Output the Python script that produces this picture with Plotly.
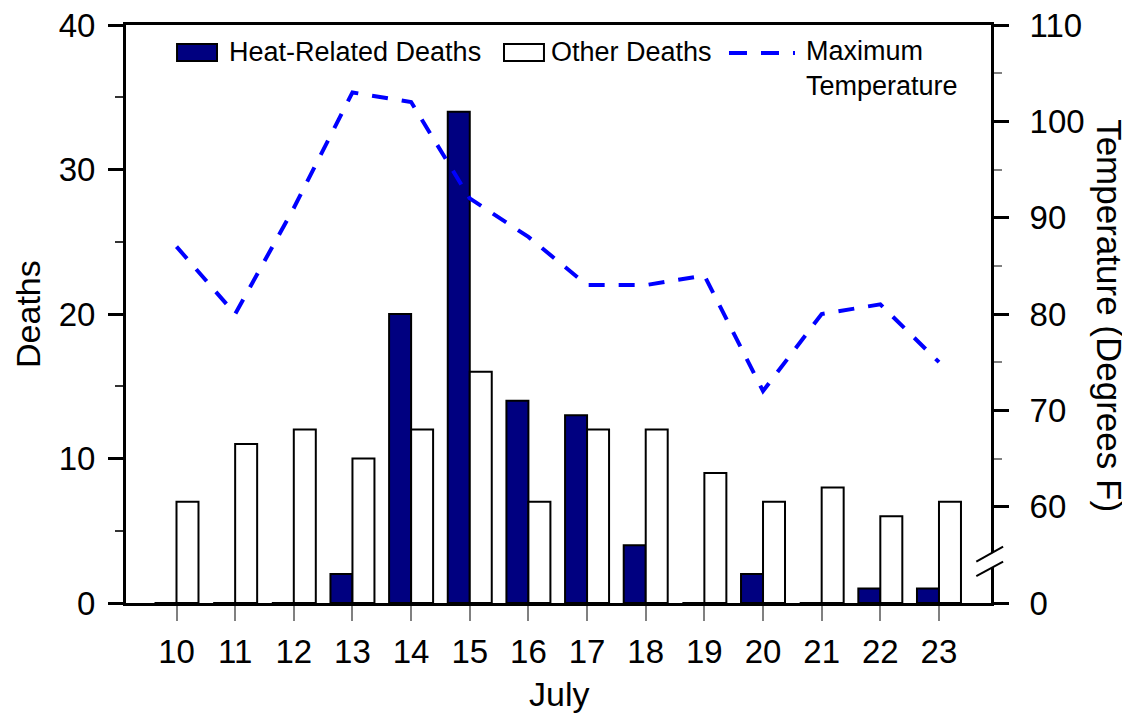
import plotly.graph_objects as go

days = ["10", "11", "12", "13", "14", "15", "16", "17", "18", "19", "20", "21", "22", "23"]
heat_deaths = [0, 0, 0, 2, 20, 34, 14, 13, 4, 0, 2, 0, 1, 1]
other_deaths = [7, 11, 12, 10, 12, 16, 7, 12, 12, 9, 7, 8, 6, 7]
max_temp = [87, 80, 91, 103, 102, 92, 88, 83, 83, 84, 72, 80, 81, 75]

deaths_ticks = [0, 10, 20, 30, 40]
deaths_minor = [5, 15, 25, 35]
temp_tickvals = [50, 60, 70, 80, 90, 100, 110]
temp_ticktext = ["0", "60", "70", "80", "90", "100", "110"]
temp_minor = [65, 75, 85, 95, 105]

FONT = "Liberation Sans, Arial, sans-serif"
NAVY = "#000080"
BLUE = "#0000FF"

fig = go.Figure()
fig.add_trace(go.Bar(
    x=days, y=heat_deaths, name="Heat-Related Deaths",
    marker=dict(color=NAVY, line=dict(color="black", width=2)),
))
fig.add_trace(go.Bar(
    x=days, y=other_deaths, name="Other Deaths",
    marker=dict(color="white", line=dict(color="black", width=2)),
))
fig.add_trace(go.Scatter(
    x=days, y=max_temp, name="Maximum Temperature", yaxis="y2",
    mode="lines", line=dict(color=BLUE, width=4, dash="16px,14px"),
))

# page body has an 8px margin, so the figure is sized 8px smaller each way
fig.update_layout(
    width=1122, height=705,
    margin=dict(l=118, r=139, t=17, b=110, autoexpand=False),
    paper_bgcolor="white", plot_bgcolor="white",
    font=dict(family=FONT, size=33, color="black"),
    barmode="group", bargap=0.25, bargroupgap=0,
    showlegend=False,
    xaxis=dict(
        type="category", range=[-0.861, 13.887], automargin=False,
        showline=True, linecolor="black", linewidth=3, mirror=True,
        ticks="outside", ticklen=15, tickwidth=1.5, tickcolor="#808080",
        showgrid=False, zeroline=False,
        tickfont=dict(size=33), ticklabelstandoff=2, ticklabeloverflow="allow",
    ),
    yaxis=dict(
        range=[0, 40], tickvals=deaths_ticks, automargin=False,
        showline=True, linecolor="black", linewidth=3,
        ticks="outside", ticklen=15, tickwidth=3, tickcolor="black",
        minor=dict(tickvals=deaths_minor, ticks="outside", ticklen=8, tickwidth=1.5, tickcolor="#333333"),
        showgrid=False, zeroline=False,
        tickfont=dict(size=33), ticklabelstandoff=6, ticklabeloverflow="allow",
    ),
    yaxis2=dict(
        range=[50, 110], tickvals=temp_tickvals, ticktext=temp_ticktext, automargin=False,
        overlaying="y", side="right",
        showline=True, linecolor="black", linewidth=3,
        ticks="outside", ticklen=15, tickwidth=3, tickcolor="black",
        minor=dict(tickvals=temp_minor, ticks="outside", ticklen=8, tickwidth=1.5, tickcolor="#808080"),
        showgrid=False, zeroline=False,
        tickfont=dict(size=33), ticklabelstandoff=14, ticklabeloverflow="allow",
    ),
)

# axis titles
fig.add_annotation(text="Deaths", xref="paper", yref="paper", x=-0.1133, y=0.5,
                   showarrow=False, textangle=-90, font=dict(size=34, family=FONT),
                   xanchor="center", yanchor="middle")
fig.add_annotation(text="Temperature (Degrees F)", xref="paper", yref="paper",
                   x=1.1376, y=0.498, showarrow=False, textangle=90,
                   font=dict(size=35, family=FONT), xanchor="center", yanchor="middle")
fig.add_annotation(text="July", xref="paper", yref="paper", x=0.5, y=-0.1574,
                   showarrow=False, font=dict(size=34, family=FONT),
                   xanchor="center", yanchor="middle")

# axis break marks on right axis
fig.add_shape(type="path", xref="paper", yref="y2",
              path="M 0.983 54.3 L 1.014 55.85 L 1.014 54.3 L 0.983 52.8 Z",
              fillcolor="white", line=dict(width=0), layer="above")
fig.add_shape(type="line", xref="paper", yref="y2", x0=0.983, y0=54.3, x1=1.014, y1=55.85,
              line=dict(color="black", width=2), layer="above")
fig.add_shape(type="line", xref="paper", yref="y2", x0=0.983, y0=52.8, x1=1.014, y1=54.3,
              line=dict(color="black", width=2), layer="above")

# legend (keys drawn to match the reference's large swatches)
LEG_FONT = dict(size=27, family=FONT, color="black")
fig.add_shape(type="rect", xref="paper", yref="paper", x0=0.059, x1=0.1052, y0=0.9377, y1=0.9671,
              fillcolor=NAVY, line=dict(color="black", width=2))
fig.add_annotation(text="Heat-Related Deaths", xref="paper", yref="paper", x=0.1165, y=0.9533,
                   showarrow=False, xanchor="left", yanchor="middle", font=LEG_FONT)
fig.add_shape(type="rect", xref="paper", yref="paper", x0=0.437, x1=0.4832, y0=0.9377, y1=0.9671,
              fillcolor="white", line=dict(color="black", width=2))
fig.add_annotation(text="Other Deaths", xref="paper", yref="paper", x=0.4895, y=0.9533,
                   showarrow=False, xanchor="left", yanchor="middle", font=LEG_FONT)
fig.add_shape(type="line", xref="paper", yref="paper", x0=0.6971, x1=0.7734, y0=0.9515, y1=0.9515,
              line=dict(color=BLUE, width=4, dash="18px,14px"))
fig.add_annotation(text="Maximum<br>Temperature", xref="paper", yref="paper", x=0.7838, y=0.9239,
                   showarrow=False, xanchor="left", yanchor="middle", align="left", font=LEG_FONT)

fig.write_html("out.html")
